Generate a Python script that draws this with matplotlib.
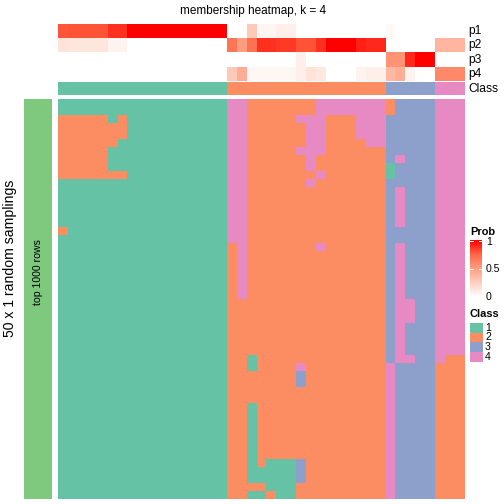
import matplotlib
matplotlib.use("Agg")
import matplotlib.pyplot as plt
import numpy as np
from matplotlib.colors import ListedColormap, LinearSegmentedColormap
from matplotlib.patches import Rectangle

plt.rcParams["font.family"] = ["Liberation Sans", "DejaVu Sans"]

class_colors = ["#66C2A5", "#FC8D62", "#8DA0CB", "#E78AC3"]
class_labels = ["1", "2", "3", "4"]
prob_colors = ["#FFFFFF", "#FFCFBE", "#FF9E81", "#FF6846", "#FF0000"]

# consensus class of each column
col_class = [1] * 17 + [2] * 16 + [3] * 5 + [4] * 3

# membership probabilities p1..p4 per column
p1 = [0.79, 0.8, 0.8, 0.8, 0.8, 0.88, 0.88, 1, 1, 1, 1, 1, 1, 1, 1, 1, 1,
      0, 0, 0.27, 0.05, 0.05, 0.08, 0.08, 0, 0, 0, 0, 0, 0, 0, 0, 0,
      0.03, 0, 0, 0, 0, 0, 0, 0]
p2 = [0.15, 0.13, 0.13, 0.13, 0.13, 0.06, 0.06, 0, 0, 0, 0, 0, 0, 0, 0, 0, 0,
      0.68, 0.5, 0.7, 0.88, 0.88, 0.86, 0.86, 0.8, 0.8, 0.88, 1, 1, 1, 0.92, 0.9, 0.9,
      0, 0, 0, 0, 0, 0.38, 0.38, 0.38]
p3 = [0] * 17 + [0, 0, 0, 0, 0, 0, 0, 0.08, 0, 0, 0, 0, 0, 0, 0, 0] + \
     [0.55, 0.55, 0.9, 1, 1, 0, 0, 0]
p4 = [0] * 17 + [0.28, 0.42, 0.04, 0.04, 0.04, 0.04, 0.04, 0.08, 0.15, 0.12,
                 0, 0, 0, 0.06, 0.08, 0.08] + \
     [0.36, 0.42, 0.06, 0, 0, 0.6, 0.6, 0.6]

# class assigned in each of the 50 random samplings (rows) for each column
samplings = [
    "11111111111111111" + "44" + "22222224444444" + "23333444",
    "11111111111111111" + "44" + "22222224444444" + "23333444",
    "22222121111111111" + "44" + "22222444222444" + "33333444",
    "22222221111111111" + "44" + "22222244222444" + "33333444",
    "22222221111111111" + "44" + "22222244222444" + "33333444",
    "22222211111111111" + "44" + "22222244222244" + "33333444",
    "22222111111111111" + "44" + "22222444222222" + "33333444",
    "22222111111111111" + "44" + "22222242222222" + "34333444",
    "22222111111111111" + "44" + "22222242222222" + "13333444",
    "22222221111111111" + "44" + "22222224222222" + "13333444",
    "11111111111111111" + "44" + "22222242222222" + "33333444",
    "11111111111111111" + "44" + "22222222222222" + "34333444",
    "11111111111111111" + "44" + "22222222222222" + "34333444",
    "11111111111111111" + "44" + "22222222222222" + "34333444",
    "11111111111111111" + "44" + "22222222222222" + "34333444",
    "11111111111111111" + "44" + "22222222222222" + "34333444",
    "21111111111111111" + "44" + "22222222222222" + "33333444",
    "11111111111111111" + "44" + "22222222222222" + "33333444",
    "11111111111111111" + "24" + "22222224222222" + "34333444",
    "11111111111111111" + "24" + "22222222222222" + "34333444",
    "11111111111111111" + "24" + "22222222222222" + "34333444",
    "11111111111111111" + "24" + "22222222222222" + "34333444",
    "11111111111111111" + "24" + "22222222222222" + "34333444",
    "11111111111111111" + "24" + "22222222222222" + "34333444",
    "11111111111111111" + "24" + "22222222222222" + "34333444",
    "11111111111111111" + "22" + "22222222222222" + "34433444",
    "11111111111111111" + "22" + "22222222222222" + "34433444",
    "11111111111111111" + "22" + "22222222222222" + "34433444",
    "11111111111111111" + "22" + "22222222222222" + "34333444",
    "11111111111111111" + "22" + "22222222222222" + "34333444",
    "11111111111111111" + "22" + "22222222222222" + "34333444",
    "11111111111111111" + "22" + "22222222222222" + "34333444",
    "11111111111111111" + "22" + "12222222222222" + "34433422",
    "11111111111111111" + "22" + "12222422222222" + "43333222",
    "11111111111111111" + "22" + "22222322222222" + "43333222",
    "11111111111111111" + "22" + "22222322222222" + "43333222",
    "11111111111111111" + "22" + "22222222222222" + "43333222",
    "11111111111111111" + "22" + "22222222222222" + "43333222",
    "11111111111111111" + "22" + "12222222222222" + "43333222",
    "11111111111111111" + "22" + "12222222222222" + "43333222",
    "11111111111111111" + "22" + "12222222222222" + "43333222",
    "11111111111111111" + "22" + "12222222222222" + "43333222",
    "11111111111111111" + "22" + "12222222222222" + "43333222",
    "11111111111111111" + "22" + "12222222222222" + "43333222",
    "11111111111111111" + "22" + "12222222222222" + "43333222",
    "11111111111111111" + "22" + "12111322222222" + "43333222",
    "11111111111111111" + "22" + "11111322222222" + "43333222",
    "11111111111111111" + "22" + "11111322222222" + "43333222",
    "11111111111111111" + "22" + "22111222222222" + "43333222",
    "11111111111111111" + "22" + "11211222222222" + "43333222",
]

W = H = 504.0


def box(x0, y0, x1, y1):
    # pixel box (top-left origin) -> figure fraction rect
    return [x0 / W, 1 - y1 / H, (x1 - x0) / W, (y1 - y0) / H]


cls_cmap = ListedColormap(class_colors)
prob_cmap = LinearSegmentedColormap.from_list("prob", prob_colors)

fig = plt.figure(figsize=(7, 7), dpi=72)

# top annotation: membership probabilities
ax_p = fig.add_axes(box(58, 24, 465, 80.7))
ax_p.imshow(np.array([p1, p2, p3, p4]), cmap=prob_cmap, vmin=0, vmax=1,
            aspect="auto", interpolation="nearest")
ax_p.axis("off")

# class annotation
ax_c = fig.add_axes(box(58, 82, 465, 95.3))
ax_c.imshow(np.array([col_class]) - 1, cmap=cls_cmap, vmin=0, vmax=3,
            aspect="auto", interpolation="nearest")
ax_c.axis("off")

for i, lab in enumerate(["p1", "p2", "p3", "p4"]):
    fig.text(468 / W, 1 - (24 + 14.2 * (i + 0.5)) / H, lab, fontsize=12,
             va="center", ha="left")
fig.text(468 / W, 1 - 88.6 / H, "Class", fontsize=12, va="center", ha="left")

# main heatmap
mat = np.array([[int(c) for c in row] for row in samplings])
ax_m = fig.add_axes(box(58, 99, 465, 499))
ax_m.imshow(mat - 1, cmap=cls_cmap, vmin=0, vmax=3, aspect="auto",
            interpolation="nearest")
ax_m.axis("off")

# left row-group bar
ax_l = fig.add_axes(box(24, 99, 52, 499))
ax_l.add_patch(Rectangle((0, 0), 1, 1, color="#7FC97F"))
ax_l.set_xlim(0, 1)
ax_l.set_ylim(0, 1)
ax_l.axis("off")
fig.text(38 / W, 1 - 272 / H, "top 1000 rows", rotation=90, fontsize=10.5,
         ha="center", va="center")
fig.text(10 / W, 1 - 258 / H, "50 x 1 random samplings", rotation=90,
         fontsize=14, ha="center", va="center")

fig.text(253 / W, 1 - 11 / H, "membership heatmap, k = 4", fontsize=11.7,
         ha="center", va="center")

# Prob legend
fig.text(470 / W, 1 - 232 / H, "Prob", fontsize=11, fontweight="bold",
         ha="left", va="center")
ax_g = fig.add_axes(box(470, 240, 482, 297))
grad = np.linspace(1, 0, 100).reshape(-1, 1)
ax_g.imshow(grad, cmap=prob_cmap, vmin=0, vmax=1, aspect="auto",
            extent=[0, 1, 0, 1])
for v in [0.5, 1.0]:
    yy = v * 0.97 + 0.015
    ax_g.plot([0, 0.25], [yy, yy], color="white", lw=1)
    ax_g.plot([0.75, 1], [yy, yy], color="white", lw=1)
ax_g.set_xlim(0, 1)
ax_g.set_ylim(0, 1)
ax_g.axis("off")
for v, lab in [(1.0, "1"), (0.5, "0.5"), (0.0, "0")]:
    fig.text(486 / W, 1 - (297 - 55 * v) / H, lab, fontsize=10.5,
             ha="left", va="center")

# Class legend
fig.text(470 / W, 1 - 314 / H, "Class", fontsize=11, fontweight="bold",
         ha="left", va="center")
for i, (col, lab) in enumerate(zip(class_colors, class_labels)):
    y0 = 323 + 9.5 * i
    fig.patches.append(Rectangle((470 / W, 1 - (y0 + 9) / H), 12 / W, 9 / H,
                                 color=col, transform=fig.transFigure,
                                 figure=fig))
    fig.text(485 / W, 1 - (y0 + 5) / H, lab, fontsize=10.5, ha="left",
             va="center")

fig.savefig("out.png", dpi=72)
